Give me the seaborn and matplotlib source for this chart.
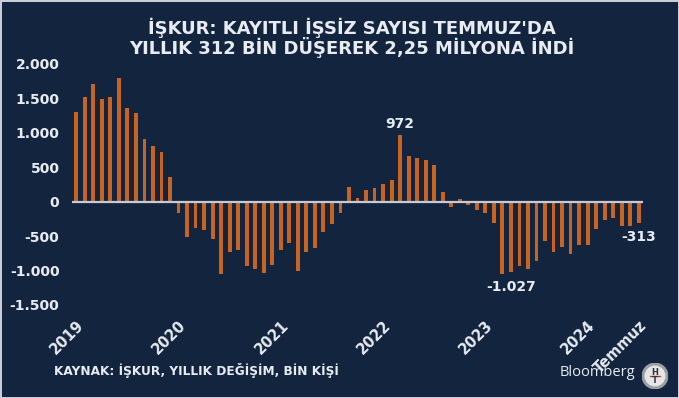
import pandas as pd
import matplotlib.pyplot as plt
import seaborn as sns
from matplotlib.patches import Circle

# ---- data (yearly change, thousand people) ----
months = pd.date_range("2019-01-01", "2024-07-01", freq="MS")
y2019 = [1310, 1525, 1705, 1490, 1520, 1800, 1365, 1290, 915, 815, 715, 355]
y2020 = [-170, -510, -375, -410, -540, -1050, -725, -700, -935, -980, -1030, -920]
y2021 = [-700, -595, -1010, -730, -670, -435, -330, -160, 215, 50, 165, 205]
y2022 = [255, 315, 972, 665, 640, 610, 530, 135, -75, 45, -45, -125]
y2023 = [-160, -315, -1050, -1027, -930, -980, -865, -575, -730, -665, -760, -635]
y2024 = [-630, -395, -265, -240, -355, -355, -313]
values = y2019 + y2020 + y2021 + y2022 + y2023 + y2024

tick_pos = [0, 12, 24, 36, 48, 60, 66]
tick_labels = ["2019", "2020", "2021", "2022", "2023", "2024", "Temmuz"]
yticks = [-1500, -1000, -500, 0, 500, 1000, 1500, 2000]

# bars to label: (index, text, offset)
notes = [(38, "972", 60, "bottom"), (51, "-1.027", -110, "top"), (66, "-313", -100, "top")]

df = pd.DataFrame({"month": months.strftime("%Y-%m"), "change": values})

bg = "#13243f"
bar_col = "#c8641f"
txt = "#e8ecf2"

sns.set_style("dark", {"axes.facecolor": bg, "figure.facecolor": bg})
plt.rcParams["font.family"] = ["DejaVu Sans"]

fig = plt.figure(figsize=(6.79, 3.98), dpi=100)
fig.patch.set_facecolor(bg)
fig.patch.set_edgecolor("#c9ced6")
fig.patch.set_linewidth(2)

ax = fig.add_axes([0.106, 0.2337, 0.841, 0.6055])
sns.barplot(data=df, x="month", y="change", color=bar_col, width=0.45,
            saturation=1, linewidth=0, ax=ax)
ax.set_facecolor(bg)
ax.axhline(0, color="#c5ccd6", lw=1.6, zorder=3)

ax.set_ylim(-1500, 2000)
ax.set_xlim(-0.5, len(values) - 0.5)
ax.set_yticks(yticks)
ax.set_yticklabels([f"{v:,}".replace(",", ".") for v in yticks],
                   color=txt, fontsize=10, fontweight="bold")
ax.set_xticks(tick_pos)
ax.set_xticklabels(tick_labels, rotation=45, ha="right", rotation_mode="anchor",
                   color=txt, fontsize=10.5, fontweight="bold")
ax.tick_params(axis="both", length=0)
ax.tick_params(axis="y", pad=9)
ax.tick_params(axis="x", pad=9)
ax.set_xlabel("")
ax.set_ylabel("")
ax.grid(False)
for s in ax.spines.values():
    s.set_visible(False)

for i, label, off, va in notes:
    ax.text(i, values[i] + off, label, ha="center", va=va, color=txt,
            fontsize=10, fontweight="bold", clip_on=False)

# title
fig.text(0.518, 0.905,
         "İŞKUR: KAYITLI İŞSİZ SAYISI TEMMUZ'DA\nYILLIK 312 BİN DÜŞEREK 2,25 MİLYONA İNDİ",
         ha="center", va="center", ma="center", color=txt, fontsize=13,
         fontweight="bold", linespacing=0.95)

# footer
fig.text(0.079, 0.068, "KAYNAK: İŞKUR, YILLIK DEĞİŞİM, BİN KİŞİ", ha="left",
         va="center", color=txt, fontsize=8.7, fontweight="bold")
fig.text(0.935, 0.064, "Bloomberg", ha="right", va="center", color=txt,
         fontsize=10.5, family="Open Sans")

# HT logo
lax = fig.add_axes([642 / 679, 1 - 389 / 398, 26 / 679, 26 / 398])
lax.set_xlim(-1, 1)
lax.set_ylim(-1, 1)
lax.axis("off")
lax.add_patch(Circle((0, 0), 0.98, color="#9aa0a8"))
lax.add_patch(Circle((0, 0), 0.75, color="#e6e6e6"))
lax.text(0, 0.3, "H", ha="center", va="center", fontsize=6, fontweight="bold", color="#333")
lax.text(0, -0.35, "T", ha="center", va="center", fontsize=6, fontweight="bold", color="#333")
lax.plot([-0.4, 0.4], [0, 0], color="#c0392b", lw=1)

fig.savefig("out.png", dpi=100, facecolor=bg, edgecolor=fig.get_edgecolor())
